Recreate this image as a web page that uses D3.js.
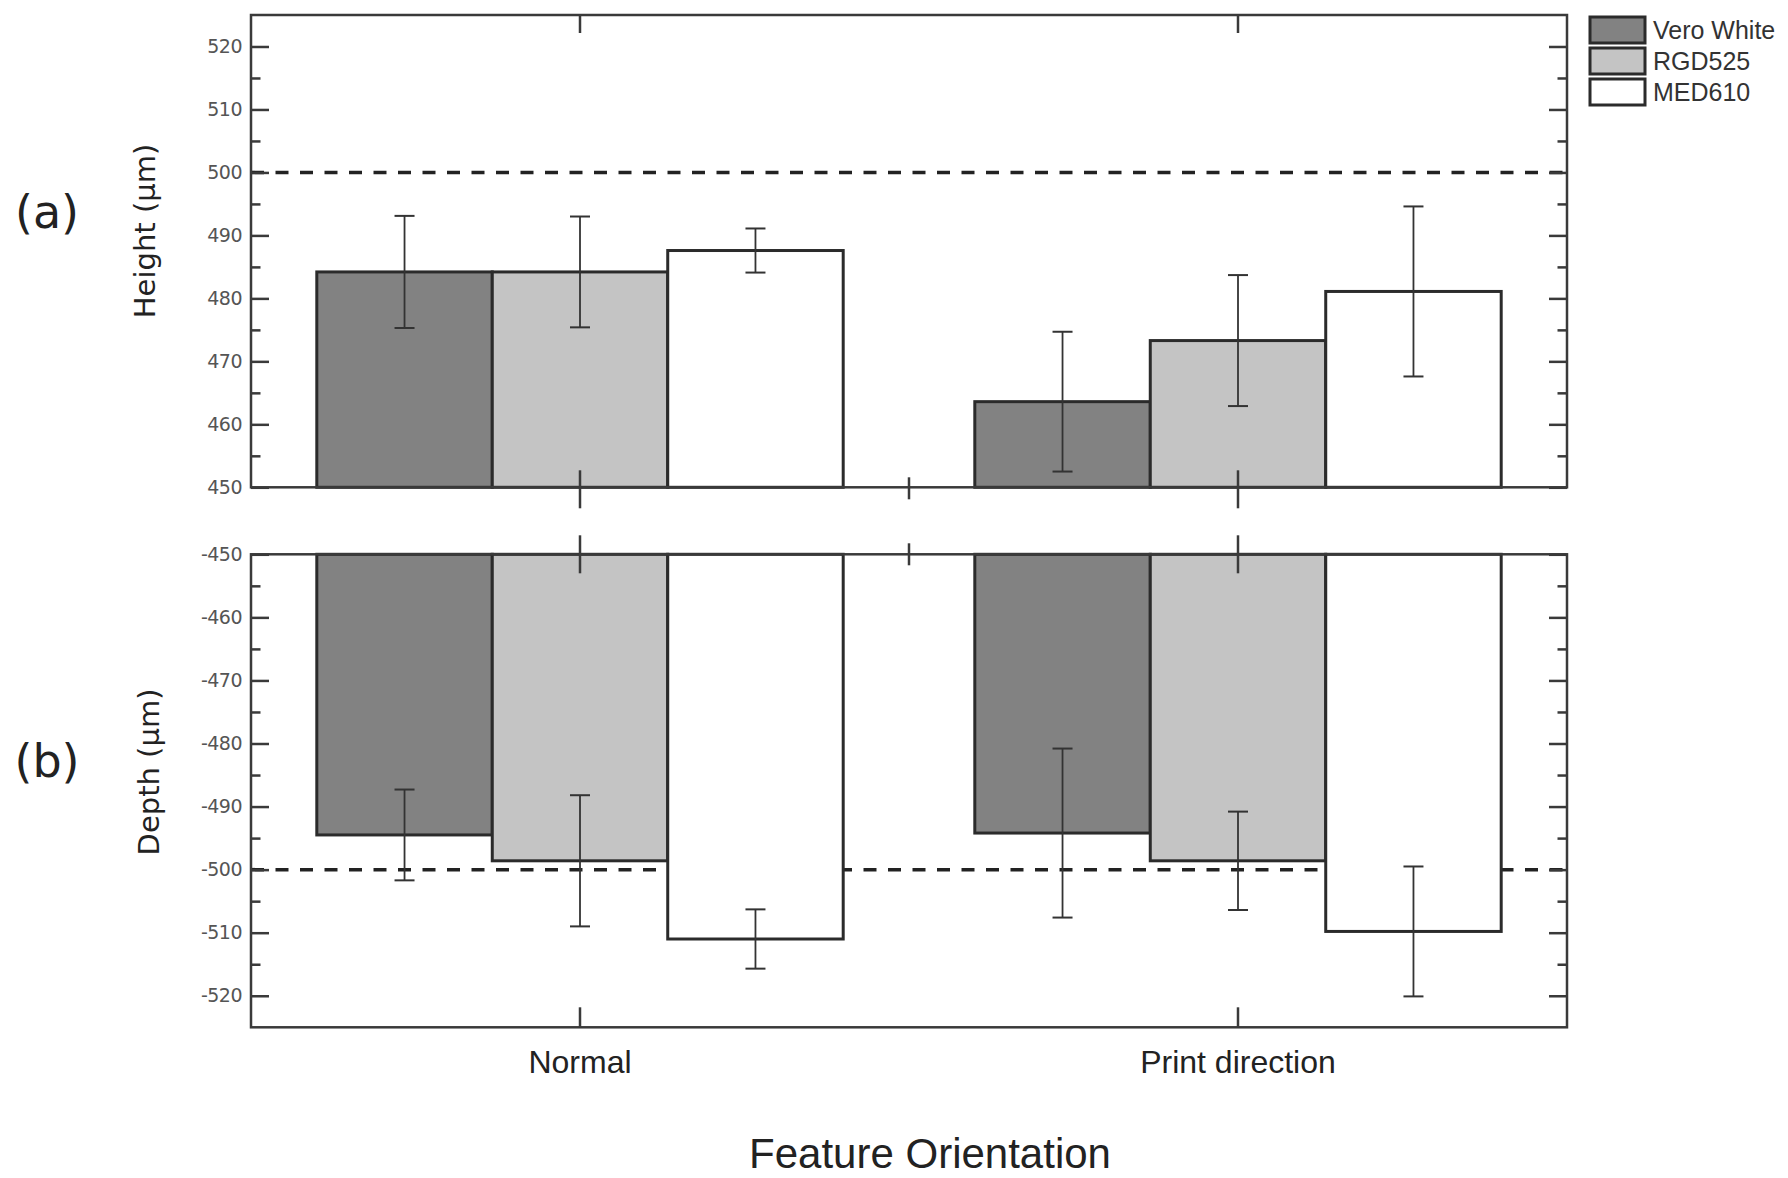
<!DOCTYPE html>
<html>
<head>
<meta charset="utf-8">
<script src="https://cdn.jsdelivr.net/npm/d3@7"></script>
<style>
  html, body { margin: 0; padding: 0; background: #fff; }
  svg { display: block; }
</style>
</head>
<body>
<div id="chart"></div>
<script>
// Two stacked bar panels: feature height (a) and depth (b)

const categories = ['Normal', 'Print direction'];
const series = ['Vero White', 'RGD525', 'MED610'];

// values per series, per category
const heightMean = [[484.2, 463.6], [484.2, 473.3], [487.6, 481.1]];
const heightErr  = [[8.9, 11.1],   [8.8, 10.4],   [3.5, 13.5]];
const depthMean  = [[-494.5, -494.2], [-498.6, -498.6], [-511.0, -509.8]];
const depthErr   = [[7.2, 13.4],     [10.4, 7.8],     [4.7, 10.3]];

const heightTarget = 500;
const depthTarget = -500;

const heightTicks = [450, 460, 470, 480, 490, 500, 510, 520];
const heightMinor = [455, 465, 475, 485, 495, 505, 515];
const depthTicks = [-450, -460, -470, -480, -490, -500, -510, -520];
const depthMinor = [-455, -465, -475, -485, -495, -505, -515];

const fills = ['#828282', '#c4c4c4', '#ffffff'];

const W = 1788, H = 1178;
const left = 251, right = 1567;
const INK = '#333';
const LABEL_FONT = '"Liberation Sans", Arial, sans-serif';
const TITLE_FONT = '"DejaVu Sans", Verdana, sans-serif';

const svg = d3.select('#chart').append('svg')
  .attr('width', W)
  .attr('height', H);

// x scales shared by both panels
const x0 = d3.scaleBand()
  .domain(categories)
  .range([left, right])
  .paddingInner(0.2)
  .paddingOuter(0.1);
const x1 = d3.scaleBand()
  .domain(series)
  .range([0, x0.bandwidth()])
  .padding(0);

const centers = categories.map(c => x0(c) + x0.bandwidth() / 2);
const midTick = d3.mean(centers);

function drawPanel(opts) {
  const { y, base, means, errs, target, ticks, minor } = opts;
  const g = svg.append('g');
  const [yA, yB] = y.range();
  const top = Math.min(yA, yB), bottom = Math.max(yA, yB);

  // dashed reference line (behind the bars)
  g.append('line')
    .attr('x1', left).attr('x2', right)
    .attr('y1', y(target)).attr('y2', y(target))
    .attr('stroke', '#222')
    .attr('stroke-width', 3.5)
    .attr('stroke-dasharray', '13,11.5');

  // bars
  const rows = [];
  series.forEach((s, si) => {
    categories.forEach((c, ci) => {
      rows.push({ s, si, c, v: means[si][ci], e: errs[si][ci] });
    });
  });

  g.selectAll('rect.bar')
    .data(rows)
    .enter().append('rect')
    .attr('class', 'bar')
    .attr('x', d => x0(d.c) + x1(d.s))
    .attr('width', x1.bandwidth())
    .attr('y', d => Math.min(y(base), y(d.v)))
    .attr('height', d => Math.abs(y(d.v) - y(base)))
    .attr('fill', d => fills[d.si])
    .attr('stroke', '#2b2b2b')
    .attr('stroke-width', 3);

  // y axes, ticks pointing inward
  const axL = g.append('g').attr('transform', `translate(${left},0)`)
    .call(d3.axisLeft(y).tickValues(ticks).tickSize(-18).tickPadding(9)
      .tickFormat(d => String(d)));
  g.append('g').attr('transform', `translate(${left},0)`)
    .call(d3.axisLeft(y).tickValues(minor).tickSize(-9.5).tickFormat(''));
  g.append('g').attr('transform', `translate(${right},0)`)
    .call(d3.axisRight(y).tickValues(ticks).tickSize(-18).tickFormat(''));
  g.append('g').attr('transform', `translate(${right},0)`)
    .call(d3.axisRight(y).tickValues(minor).tickSize(-9.5).tickFormat(''));

  g.selectAll('.domain').remove();
  g.selectAll('.tick line').attr('stroke', '#3a3a3a').attr('stroke-width', 2.5);
  axL.selectAll('text')
    .attr('font-family', TITLE_FONT)
    .attr('font-size', 19)
    .attr('letter-spacing', -0.5)
    .attr('fill', '#555');

  // frame
  g.append('rect')
    .attr('x', left).attr('y', top)
    .attr('width', right - left).attr('height', bottom - top)
    .attr('fill', 'none')
    .attr('stroke', '#3a3a3a')
    .attr('stroke-width', 2.5);

  // category ticks on horizontal edges
  (opts.xTicks || []).forEach(t => {
    t.at.forEach(xv => {
      g.append('line')
        .attr('x1', xv).attr('x2', xv)
        .attr('y1', t.y - t.up).attr('y2', t.y + t.down)
        .attr('stroke', '#3a3a3a')
        .attr('stroke-width', 2.5);
    });
  });

  // error bars
  const eb = g.selectAll('g.err')
    .data(rows)
    .enter().append('g')
    .attr('class', 'err')
    .attr('transform', d => `translate(${x0(d.c) + x1(d.s) + x1.bandwidth() / 2},0)`);
  eb.append('line')
    .attr('y1', d => y(d.v - d.e)).attr('y2', d => y(d.v + d.e))
    .attr('stroke', INK).attr('stroke-width', 1.8);
  eb.append('line')
    .attr('x1', -10).attr('x2', 10)
    .attr('y1', d => y(d.v + d.e)).attr('y2', d => y(d.v + d.e))
    .attr('stroke', INK).attr('stroke-width', 2);
  eb.append('line')
    .attr('x1', -10).attr('x2', 10)
    .attr('y1', d => y(d.v - d.e)).attr('y2', d => y(d.v - d.e))
    .attr('stroke', INK).attr('stroke-width', 2);

  return g;
}

// (a) height
const yH = d3.scaleLinear().domain([450, 525]).range([487.3, 15]);
drawPanel({
  y: yH, base: 450, means: heightMean, errs: heightErr, target: heightTarget,
  ticks: heightTicks, minor: heightMinor,
  xTicks: [
    { y: 15, up: 0, down: 18, at: centers },
    { y: 487.3, up: 17, down: 21, at: centers },
    { y: 487.3, up: 10, down: 12, at: [midTick] }
  ]
});

// (b) depth
const yD = d3.scaleLinear().domain([-450, -525]).range([554.3, 1027.3]);
drawPanel({
  y: yD, base: -450, means: depthMean, errs: depthErr, target: depthTarget,
  ticks: depthTicks, minor: depthMinor,
  xTicks: [
    { y: 554.3, up: 19, down: 19, at: centers },
    { y: 554.3, up: 11, down: 11, at: [midTick] },
    { y: 1027.3, up: 20, down: 0, at: centers }
  ]
});

// category labels
svg.selectAll('text.cat')
  .data(categories)
  .enter().append('text')
  .attr('class', 'cat')
  .attr('x', (d, i) => centers[i])
  .attr('y', 1073)
  .attr('text-anchor', 'middle')
  .attr('font-family', LABEL_FONT)
  .attr('font-size', 32)
  .attr('fill', '#222')
  .text(d => d);

svg.append('text')
  .attr('x', 930).attr('y', 1168)
  .attr('text-anchor', 'middle')
  .attr('font-family', LABEL_FONT)
  .attr('font-size', 42)
  .attr('fill', '#222')
  .text('Feature Orientation');

// y titles
[['Height (µm)', 155, 231], ['Depth (µm)', 159, 772]].forEach(([t, tx, ty]) => {
  svg.append('text')
    .attr('transform', `translate(${tx},${ty}) rotate(-90)`)
    .attr('text-anchor', 'middle')
    .attr('font-family', TITLE_FONT)
    .attr('font-size', 29)
    .attr('fill', '#222')
    .text(t);
});

// panel letters
[['(a)', 228], ['(b)', 777]].forEach(([t, ty]) => {
  svg.append('text')
    .attr('x', 47).attr('y', ty)
    .attr('text-anchor', 'middle')
    .attr('font-family', TITLE_FONT)
    .attr('font-size', 46)
    .attr('fill', '#222')
    .text(t);
});

// legend
const legend = svg.append('g').attr('transform', 'translate(1590,17)');
const item = legend.selectAll('g')
  .data(series)
  .enter().append('g')
  .attr('transform', (d, i) => `translate(0,${i * 31})`);
item.append('rect')
  .attr('width', 55).attr('height', 26)
  .attr('fill', (d, i) => fills[i])
  .attr('stroke', '#2b2b2b')
  .attr('stroke-width', 3);
item.append('text')
  .attr('x', 63).attr('y', 22)
  .attr('font-family', LABEL_FONT)
  .attr('font-size', 25)
  .attr('fill', '#333')
  .text(d => d);
</script>
</body>
</html>
